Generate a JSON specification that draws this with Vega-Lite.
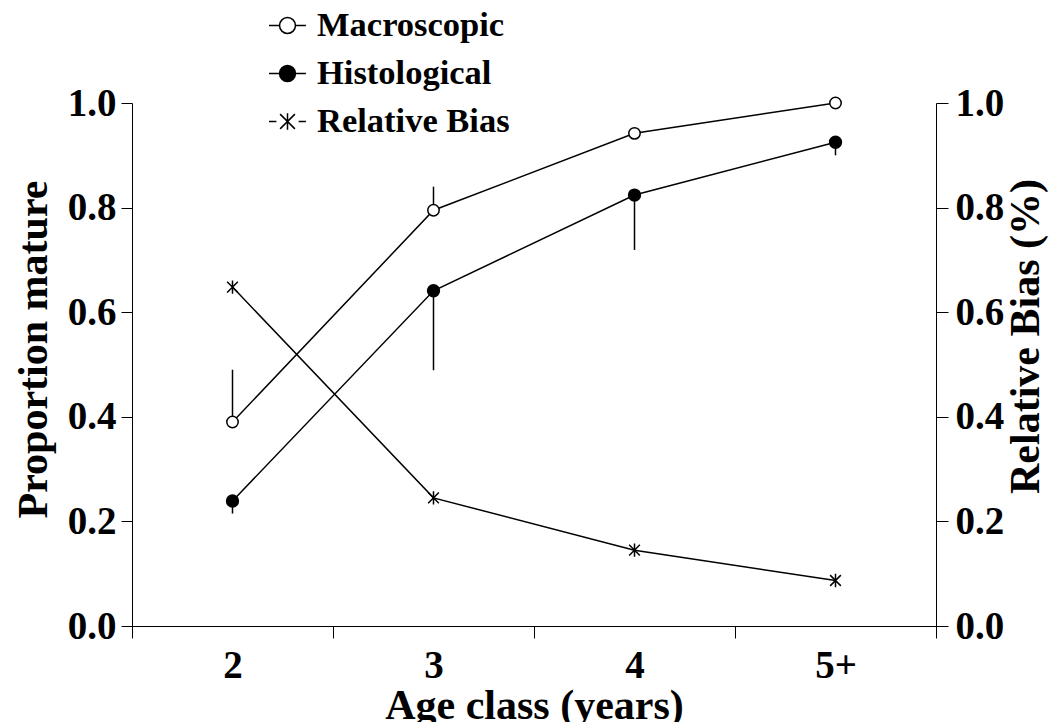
{
  "$schema": "https://vega.github.io/schema/vega-lite/v6.json",
  "width": 804,
  "height": 523,
  "autosize": {"type": "none"},
  "padding": {"left": 132, "top": 103, "right": 122, "bottom": 96},
  "background": "white",
  "config": {
    "view": {"stroke": null},
    "font": "Liberation Serif",
    "axis": {
      "labelFont": "Liberation Serif", "labelFontWeight": "bold", "labelFontSize": 39, "labelColor": "black",
      "titleFont": "Liberation Serif", "titleFontWeight": "bold", "titleFontSize": 42, "titleColor": "black",
      "domainColor": "black", "tickColor": "black", "grid": false, "domainWidth": 1, "tickWidth": 1
    },
    "legend": {
      "labelFont": "Liberation Serif", "labelFontWeight": "bold", "labelFontSize": 34.5, "labelColor": "black", "labelLimit": 500
    }
  },
  "datasets": {
    "main": [
      {"age": "2", "series": "Macroscopic", "value": 0.39, "err": 0.49},
      {"age": "3", "series": "Macroscopic", "value": 0.795, "err": 0.84},
      {"age": "4", "series": "Macroscopic", "value": 0.942, "err": null},
      {"age": "5+", "series": "Macroscopic", "value": 1.0, "err": null},
      {"age": "2", "series": "Histological", "value": 0.239, "err": 0.215},
      {"age": "3", "series": "Histological", "value": 0.641, "err": 0.489},
      {"age": "4", "series": "Histological", "value": 0.824, "err": 0.719},
      {"age": "5+", "series": "Histological", "value": 0.925, "err": 0.9}
    ],
    "bias": [
      {"age": "2", "series": "Relative Bias", "bias": 0.648},
      {"age": "3", "series": "Relative Bias", "bias": 0.245},
      {"age": "4", "series": "Relative Bias", "bias": 0.145},
      {"age": "5+", "series": "Relative Bias", "bias": 0.087}
    ]
  },
  "encoding": {
    "x": {
      "field": "age", "type": "ordinal",
      "scale": {"type": "band", "domain": ["2", "3", "4", "5+"], "paddingInner": 0, "paddingOuter": 0},
      "axis": {
        "title": "Age class (years)", "labelAngle": 0, "tickBand": "extent", "tickSize": 12,
        "labelPadding": 8, "titlePadding": 0,
        "encode": {
          "ticks": {"update": {"y": {"value": -12}}},
          "domain": {"update": {"x": {"value": -12}, "x2": {"value": 816}}}
        }
      }
    }
  },
  "layer": [
    {
      "data": {"name": "main"},
      "encoding": {
        "y": {
          "field": "value", "type": "quantitative",
          "scale": {"domain": [0, 1], "nice": false, "zero": false},
          "axis": {
            "title": "Proportion mature", "values": [0, 0.2, 0.4, 0.6, 0.8, 1], "format": ".1f",
            "tickSize": 11, "labelPadding": 5, "titlePadding": 12, "titleY": 246,
            "encode": {"ticks": {"update": {"x": {"value": 11}}}}
          }
        }
      },
      "layer": [
        {
          "transform": [{"filter": "datum.err != null"}],
          "mark": {"type": "rule", "color": "black", "strokeWidth": 1.5},
          "encoding": {"y2": {"field": "err"}}
        },
        {
          "mark": {"type": "line", "color": "black", "strokeWidth": 1.5},
          "encoding": {"detail": {"field": "series", "type": "nominal"}}
        },
        {
          "transform": [{"filter": "datum.series == 'Macroscopic'"}],
          "mark": {"type": "point", "shape": "circle", "filled": true, "fill": "white", "stroke": "black", "strokeWidth": 1.5, "size": 130, "opacity": 1}
        },
        {
          "transform": [{"filter": "datum.series == 'Histological'"}],
          "mark": {"type": "point", "shape": "circle", "filled": true, "fill": "black", "stroke": "black", "strokeWidth": 1.5, "size": 140, "opacity": 1}
        },
        {
          "transform": [{"filter": "false"}],
          "mark": {"type": "point", "filled": false, "stroke": "black", "strokeWidth": 1.5, "opacity": 1},
          "encoding": {
            "shape": {
              "field": "series", "type": "nominal",
              "scale": {
                "domain": ["Macroscopic", "Histological", "Relative Bias"],
                "range": [
                  "M-1,0L-0.43,0M0.43,0L1,0M0.43,0A0.43,0.43,0,1,1,-0.43,0A0.43,0.43,0,1,1,0.43,0",
                  "M-1,0L-0.43,0M0.43,0L1,0M0.43,0A0.43,0.43,0,1,1,-0.43,0A0.43,0.43,0,1,1,0.43,0M0.378,0A0.378,0.378,0,1,1,-0.378,0A0.378,0.378,0,1,1,0.378,0M0.324,0A0.324,0.324,0,1,1,-0.324,0A0.324,0.324,0,1,1,0.324,0M0.27,0A0.27,0.27,0,1,1,-0.27,0A0.27,0.27,0,1,1,0.27,0M0.216,0A0.216,0.216,0,1,1,-0.216,0A0.216,0.216,0,1,1,0.216,0M0.162,0A0.162,0.162,0,1,1,-0.162,0A0.162,0.162,0,1,1,0.162,0M0.108,0A0.108,0.108,0,1,1,-0.108,0A0.108,0.108,0,1,1,0.108,0M0.054,0A0.054,0.054,0,1,1,-0.054,0A0.054,0.054,0,1,1,0.054,0M-0.05,0L0.05,0",
                  "M-1,0L-0.6,0M0.6,0L1,0M-0.4,-0.4L0.4,0.4M-0.4,0.4L0.4,-0.4M0,-0.45L0,0.45"
                ]
              },
              "legend": {
                "title": null, "orient": "none", "legendX": 136, "legendY": -97, "direction": "vertical",
                "symbolSize": 1369, "labelOffset": 10, "rowPadding": 12, "padding": 0,
                "symbolStrokeColor": "black", "symbolStrokeWidth": 1.5
              }
            }
          }
        }
      ]
    },
    {
      "data": {"name": "bias"},
      "encoding": {
        "y": {
          "field": "bias", "type": "quantitative",
          "scale": {"domain": [0, 1], "nice": false, "zero": false},
          "axis": {
            "orient": "right", "title": "Relative Bias (%)", "titleAngle": 270, "titleBaseline": "top",
            "values": [0, 0.2, 0.4, 0.6, 0.8, 1], "format": ".1f", "titleY": 233,
            "tickSize": 12, "labelPadding": 7, "titlePadding": 2,
            "encode": {"ticks": {"update": {"x": {"value": -12}}}}
          }
        }
      },
      "layer": [
        {"mark": {"type": "line", "color": "black", "strokeWidth": 1.5}},
        {
          "mark": {
            "type": "point",
            "shape": "M0,-1L0,1M-0.8,-0.8L0.8,0.8M-0.8,0.8L0.8,-0.8",
            "filled": false, "stroke": "black", "strokeWidth": 1.5, "size": 180, "opacity": 1
          }
        }
      ]
    }
  ],
  "resolve": {"scale": {"y": "independent"}}
}
